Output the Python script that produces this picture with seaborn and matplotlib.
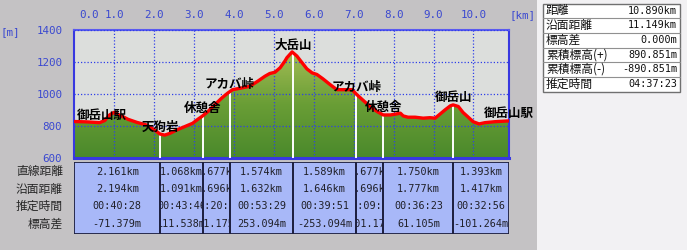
import numpy as np
import matplotlib
matplotlib.use("Agg")
import matplotlib.pyplot as plt
import seaborn as sns
from matplotlib.patches import Rectangle, Polygon
from matplotlib.colors import LinearSegmentedColormap

# ---------------- data ----------------
dist_km = [0.0, 0.30, 0.64, 0.77, 0.89, 1.0, 1.22, 1.35, 1.57, 1.82, 2.02, 2.15, 2.27, 2.40, 2.57,
           2.77, 2.97, 3.10, 3.22, 3.35, 3.52, 3.70, 3.85, 3.97, 4.20, 4.40, 4.60, 4.78, 4.90,
           5.03, 5.16, 5.28, 5.33, 5.46, 5.58, 5.71, 5.83, 5.96, 6.08, 6.23, 6.41, 6.58, 6.73,
           6.96, 7.08, 7.24, 7.41, 7.59, 7.74, 7.92, 8.04, 8.17, 8.24, 8.36, 8.54, 8.74, 8.91,
           9.04, 9.17, 9.29, 9.42, 9.49, 9.62, 9.74, 9.87, 9.99, 10.14, 10.29, 10.54, 10.89]
elev_m = [828, 826, 821, 834, 869, 885, 859, 842, 823, 806, 775, 750, 743, 754, 775,
          796, 817, 842, 863, 890, 932, 975, 1006, 1027, 1038, 1048, 1080, 1111, 1128,
          1136, 1164, 1206, 1227, 1263, 1237, 1195, 1157, 1132, 1122, 1095, 1059, 1027, 1027,
          1027, 996, 960, 922, 890, 869, 869, 874, 880, 863, 855, 855, 849, 852,
          849, 876, 901, 926, 932, 922, 884, 855, 827, 813, 821, 827, 832]

waypoints = ["御岳山駅", "天狗岩", "休憩舎", "アカバ峠", "大岳山", "アカバ峠", "休憩舎", "御岳山", "御岳山駅"]

seg_straight_km = [2.161, 1.068, 0.677, 1.574, 1.589, 0.677, 1.750, 1.393]
seg_surface_km = [2.194, 1.091, 0.696, 1.632, 1.646, 0.696, 1.777, 1.417]
seg_time = ["00:40:28", "00:43:46", "00:20:45", "00:53:29", "00:39:51", "00:09:45", "00:36:23", "00:32:56"]
seg_dh_m = [-71.379, 111.538, 101.175, 253.094, -253.094, -101.175, 61.105, -101.264]

row_labels = ["直線距離", "沿面距離", "推定時間", "標高差"]

x_ticks = [1, 2, 3, 4, 5, 6, 7, 8, 9, 10]
y_ticks = [600, 800, 1000, 1200, 1400]

summary_labels = ["距離", "沿面距離", "標高差", "累積標高(+)", "累積標高(-)", "推定時間"]
summary_values = ["10.890km", "11.149km", "0.000m", "890.851m", "-890.851m", "04:37:23"]

# ---------------- style ----------------
sns.set_style("white")
plt.rcParams['font.family'] = ['Noto Sans CJK JP', 'DejaVu Sans']
JP = ['Noto Sans CJK JP', 'DejaVu Sans']
MONO = ['DejaVu Sans Mono']
BLUE = '#3A48D0'
W, H = 687, 250

fig = plt.figure(figsize=(W / 100, H / 100), dpi=100)
fig.patch.set_facecolor('#C4C2C4')
fig.add_artist(Rectangle((537 / W, 0), 1 - 537 / W, 1, transform=fig.transFigure,
                         facecolor='#F2F1F3', edgecolor='none', zorder=0))

xmax = float(np.sum(seg_straight_km))
ax = fig.add_axes([74 / W, 1 - 158 / H, 435 / W, 128 / H])
ax.set_facecolor('#DCDEDC')

# gradient fill under the profile
cmap = LinearSegmentedColormap.from_list('g', ['#4A892B', '#6A9E36', '#A6BE56'])
grad = np.linspace(0, 1, 256).reshape(-1, 1)
im = ax.imshow(grad, extent=[0, xmax, 600, 1280], origin='lower', aspect='auto',
               cmap=cmap, zorder=1)
verts = np.column_stack([np.r_[dist_km, dist_km[-1], dist_km[0]],
                         np.r_[elev_m, 600, 600]])
poly = Polygon(verts, closed=True, facecolor='none', edgecolor='none', transform=ax.transData)
ax.add_patch(poly)
im.set_clip_path(poly)
ax.set_xlim(0, xmax)
ax.set_ylim(600, 1400)

ax.set_axisbelow(False)
ax.grid(True, color='#2F3FE8', linestyle=(0, (1, 1.6)), linewidth=0.9, zorder=2.5)

# waypoint positions
wx = np.r_[0, np.cumsum(seg_straight_km)]
welev = np.interp(wx, dist_km, elev_m)
ax.vlines(wx[1:-1], 600, welev[1:-1], color='white', linewidth=1.4, zorder=2.7)

sns.lineplot(x=dist_km, y=elev_m, ax=ax, color='#FF0000', linewidth=2.4, zorder=4,
             legend=False, sort=False)
ax.set_xlabel('')
ax.set_ylabel('')

for i, (name, x, y) in enumerate(zip(waypoints, wx, welev)):
    if i == 0:
        ax.annotate(name, (x, y), xytext=(3, 6), textcoords='offset pixels', ha='left',
                    va='center', fontsize=9, fontweight='bold', family=JP, color='black',
                    zorder=6, annotation_clip=False)
    else:
        ax.annotate(name, (x, y), xytext=(0, 7), textcoords='offset pixels', ha='center',
                    va='center', fontsize=9, fontweight='bold', family=JP, color='black',
                    zorder=6, annotation_clip=False)

ax.xaxis.tick_top()
ax.set_xticks(x_ticks)
ax.set_xticklabels([f"{v:.1f}" for v in x_ticks], family=MONO, fontsize=7.8, color=BLUE)
ax.set_yticks(y_ticks)
ax.set_yticklabels([str(v) for v in y_ticks], family=MONO, fontsize=7.8, color=BLUE)
ax.tick_params(axis='x', length=0, pad=7)
ax.tick_params(axis='y', length=0, pad=8.5)
for s in ax.spines.values():
    s.set_color('#3838E0')
    s.set_linewidth(1.5)
ax.spines['bottom'].set_linewidth(2.2)
ax.spines['top'].set_color('#5A5AF0')

fig.text(88.5 / W, 1 - 15 / H, "0.0", ha='center', va='center', family=MONO, fontsize=7.8, color=BLUE)
fig.text(522 / W, 1 - 15 / H, "[km]", ha='center', va='center', family=MONO, fontsize=7.8, color=BLUE)
fig.text(10 / W, 1 - 32 / H, "[m]", ha='center', va='center', family=MONO, fontsize=7.8, color=BLUE)

# ---------------- segment table ----------------
ax2 = fig.add_axes([74 / W, 1 - 234 / H, 435 / W, 72 / H])
ax2.set_xlim(0, xmax)
ax2.set_ylim(4, 0)
ax2.axis('off')
row_y = [0.55, 1.5, 2.44, 3.44]
for i in range(len(seg_straight_km)):
    x0 = wx[i]
    w = seg_straight_km[i]
    rect = Rectangle((x0, 0), w, 4, facecolor='#A8B8F8', edgecolor='none',
                     linewidth=0, zorder=1)
    ax2.add_patch(rect)
    border = Rectangle((x0, 0), w, 4, facecolor='none', edgecolor='#1E2040',
                       linewidth=1.3, zorder=3)
    ax2.add_patch(border)
    cell_texts = [f"{seg_straight_km[i]:.3f}km", f"{seg_surface_km[i]:.3f}km",
                  seg_time[i], f"{seg_dh_m[i]:.3f}m"]
    for t, ry in zip(cell_texts, row_y):
        tx = ax2.text(x0 + w / 2, ry, t, ha='center', va='center', family=MONO,
                      fontsize=7.3, color='#202028', zorder=2, clip_on=True)
        tx.set_clip_path(rect)

for lab, yc in zip(row_labels, [172, 189, 206, 224]):
    fig.text(63 / W, 1 - yc / H, lab, ha='right', va='center', family=JP,
             fontsize=8.5, color='#282828')

# ---------------- summary panel ----------------
px0, px1, py0, py1 = 543, 680, 3.5, 91.5
rh = (py1 - py0) / len(summary_labels)
fig.add_artist(Rectangle((px0 / W, 1 - py1 / H), (px1 - px0) / W, (py1 - py0) / H,
                         transform=fig.transFigure, facecolor='white',
                         edgecolor='#707070', linewidth=1.0, zorder=1))
for i, (lab, val) in enumerate(zip(summary_labels, summary_values)):
    ytop = py0 + i * rh
    if i > 0:
        fig.add_artist(plt.Line2D([px0 / W, px1 / W], [1 - ytop / H, 1 - ytop / H],
                                  transform=fig.transFigure, color='#909090',
                                  linewidth=0.8, zorder=2))
    yc = ytop + rh / 2
    fig.text((px0 + 3) / W, 1 - yc / H, lab, ha='left', va='center', family=JP,
             fontsize=8.5, color='#101010', zorder=3)
    fig.text((px1 - 3) / W, 1 - yc / H, val, ha='right', va='center', family=MONO,
             fontsize=7.3, color='#101010', zorder=3)

fig.savefig("out.png", dpi=100, facecolor=fig.get_facecolor())
